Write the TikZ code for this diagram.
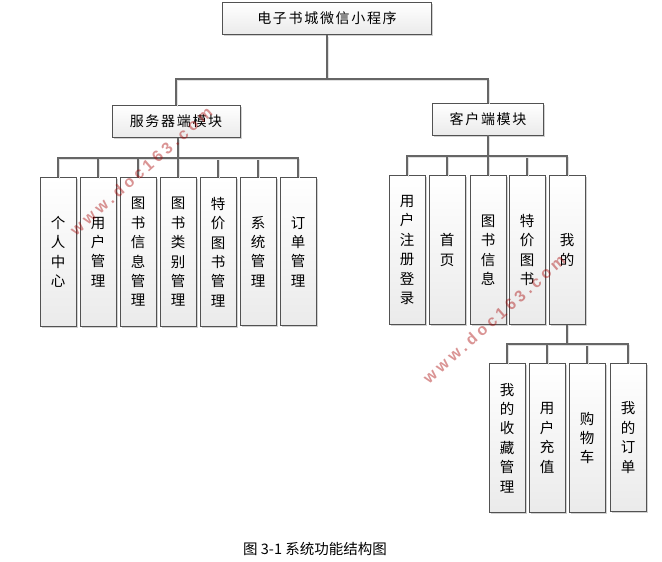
\documentclass[tikz,border=0pt]{standalone}
\usepackage{fontspec}
\setmainfont{Noto Sans CJK SC}
\newfontfamily\spacedcjk[LetterSpace=12]{Noto Sans CJK SC}
\newfontfamily\markfont[LetterSpace=24]{Liberation Sans Bold}
\usetikzlibrary{shadows}
\tikzset{
  modbox/.style={draw=black!68,line width=.9pt,top color=white,bottom color=black!8,
    drop shadow={shadow xshift=1.5pt,shadow yshift=-1.5pt,opacity=.3,fill=black!60},
    inner sep=0pt,align=center,text=black},
  headbox/.style={modbox,font=\spacedcjk\fontsize{14}{17}\selectfont},
  leafbox/.style={modbox,minimum width=36pt,minimum height=148.5pt,font=\fontsize{14.5}{19.4}\selectfont},
  conn/.style={draw=black!60,line width=1.05pt,
    preaction={draw=black!12,line width=1pt,transform canvas={shift={(1.6pt,-1.6pt)}}}},
  markbox/.style={rotate=41.5,text=red!65!black,opacity=.42,font=\markfont\fontsize{16}{16}\selectfont}
}
\begin{document}
\begin{tikzpicture}[x=1pt,y=-1pt]
    \useasboundingbox (0,0) rectangle (662,562);
    \node[headbox,minimum width=209pt,minimum height=32pt] (root) at (327,18.5) {电子书城微信小程序};
    \node[headbox,minimum width=128pt,minimum height=32pt] (server) at (176,121.5) {服务器端模块};
    \node[headbox,minimum width=111pt,minimum height=32pt] (client) at (488,119) {客户端模块};

    \node[leafbox] (profile) at (58,252) {个\\人\\中\\心};
    \node[leafbox] (userman) at (98,252) {用\\户\\管\\理};
    \node[leafbox] (bookman) at (138,252) {图\\书\\信\\息\\管\\理};
    \node[leafbox] (category) at (178,252) {图\\书\\类\\别\\管\\理};
    \node[leafbox] (specials) at (218,252) {特\\价\\图\\书\\管\\理};
    \node[leafbox] (system) at (258,251.5) {系\\统\\管\\理};
    \node[leafbox] (orders) at (298,251.5) {订\\单\\管\\理};

    \node[leafbox] (signup) at (407,250) {用\\户\\注\\册\\登\\录};
    \node[leafbox] (home) at (447,250) {首\\页};
    \node[leafbox] (books) at (488,250) {图\\书\\信\\息};
    \node[leafbox] (deals) at (527,250) {特\\价\\图\\书};
    \node[leafbox] (mine) at (567,250) {我\\的};

    \node[leafbox] (favs) at (507,438) {我\\的\\收\\藏\\管\\理};
    \node[leafbox] (recharge) at (547,438) {用\\户\\充\\值};
    \node[leafbox] (cart) at (587,438) {购\\物\\车};
    \node[leafbox] (myorders) at (628,437.5) {我\\的\\订\\单};

    \coordinate (rootbus) at (327,79);
    \coordinate (serverbus) at (178,158);
    \coordinate (clientbus) at (488,156);
    \coordinate (minebus) at (567,344);

    \draw[conn] (root.south) -- (rootbus);
    \draw[conn] (rootbus) -| (server.north);
    \draw[conn] (rootbus) -| (client.north);
    \draw[conn] (category.north |- server.south) -- (serverbus);
    \foreach \leaf in {profile,userman,bookman,category,specials,system,orders}
      \draw[conn] (serverbus) -| (\leaf.north);
    \draw[conn] (client.south) -- (clientbus);
    \foreach \leaf in {signup,home,books,deals,mine}
      \draw[conn] (clientbus) -| (\leaf.north);
    \draw[conn] (mine.south) -- (minebus);
    \foreach \leaf in {favs,recharge,cart,myorders}
      \draw[conn] (minebus) -| (\leaf.north);

    \node[markbox] (markleft) at (141,171) {www.doc163.com};
    \node[markbox] (markright) at (494,319) {www.doc163.com};
    \node[font=\fontsize{14.5}{16}\selectfont] (caption) at (315,548.5) {图 3-1 系统功能结构图};
\end{tikzpicture}
\end{document}
